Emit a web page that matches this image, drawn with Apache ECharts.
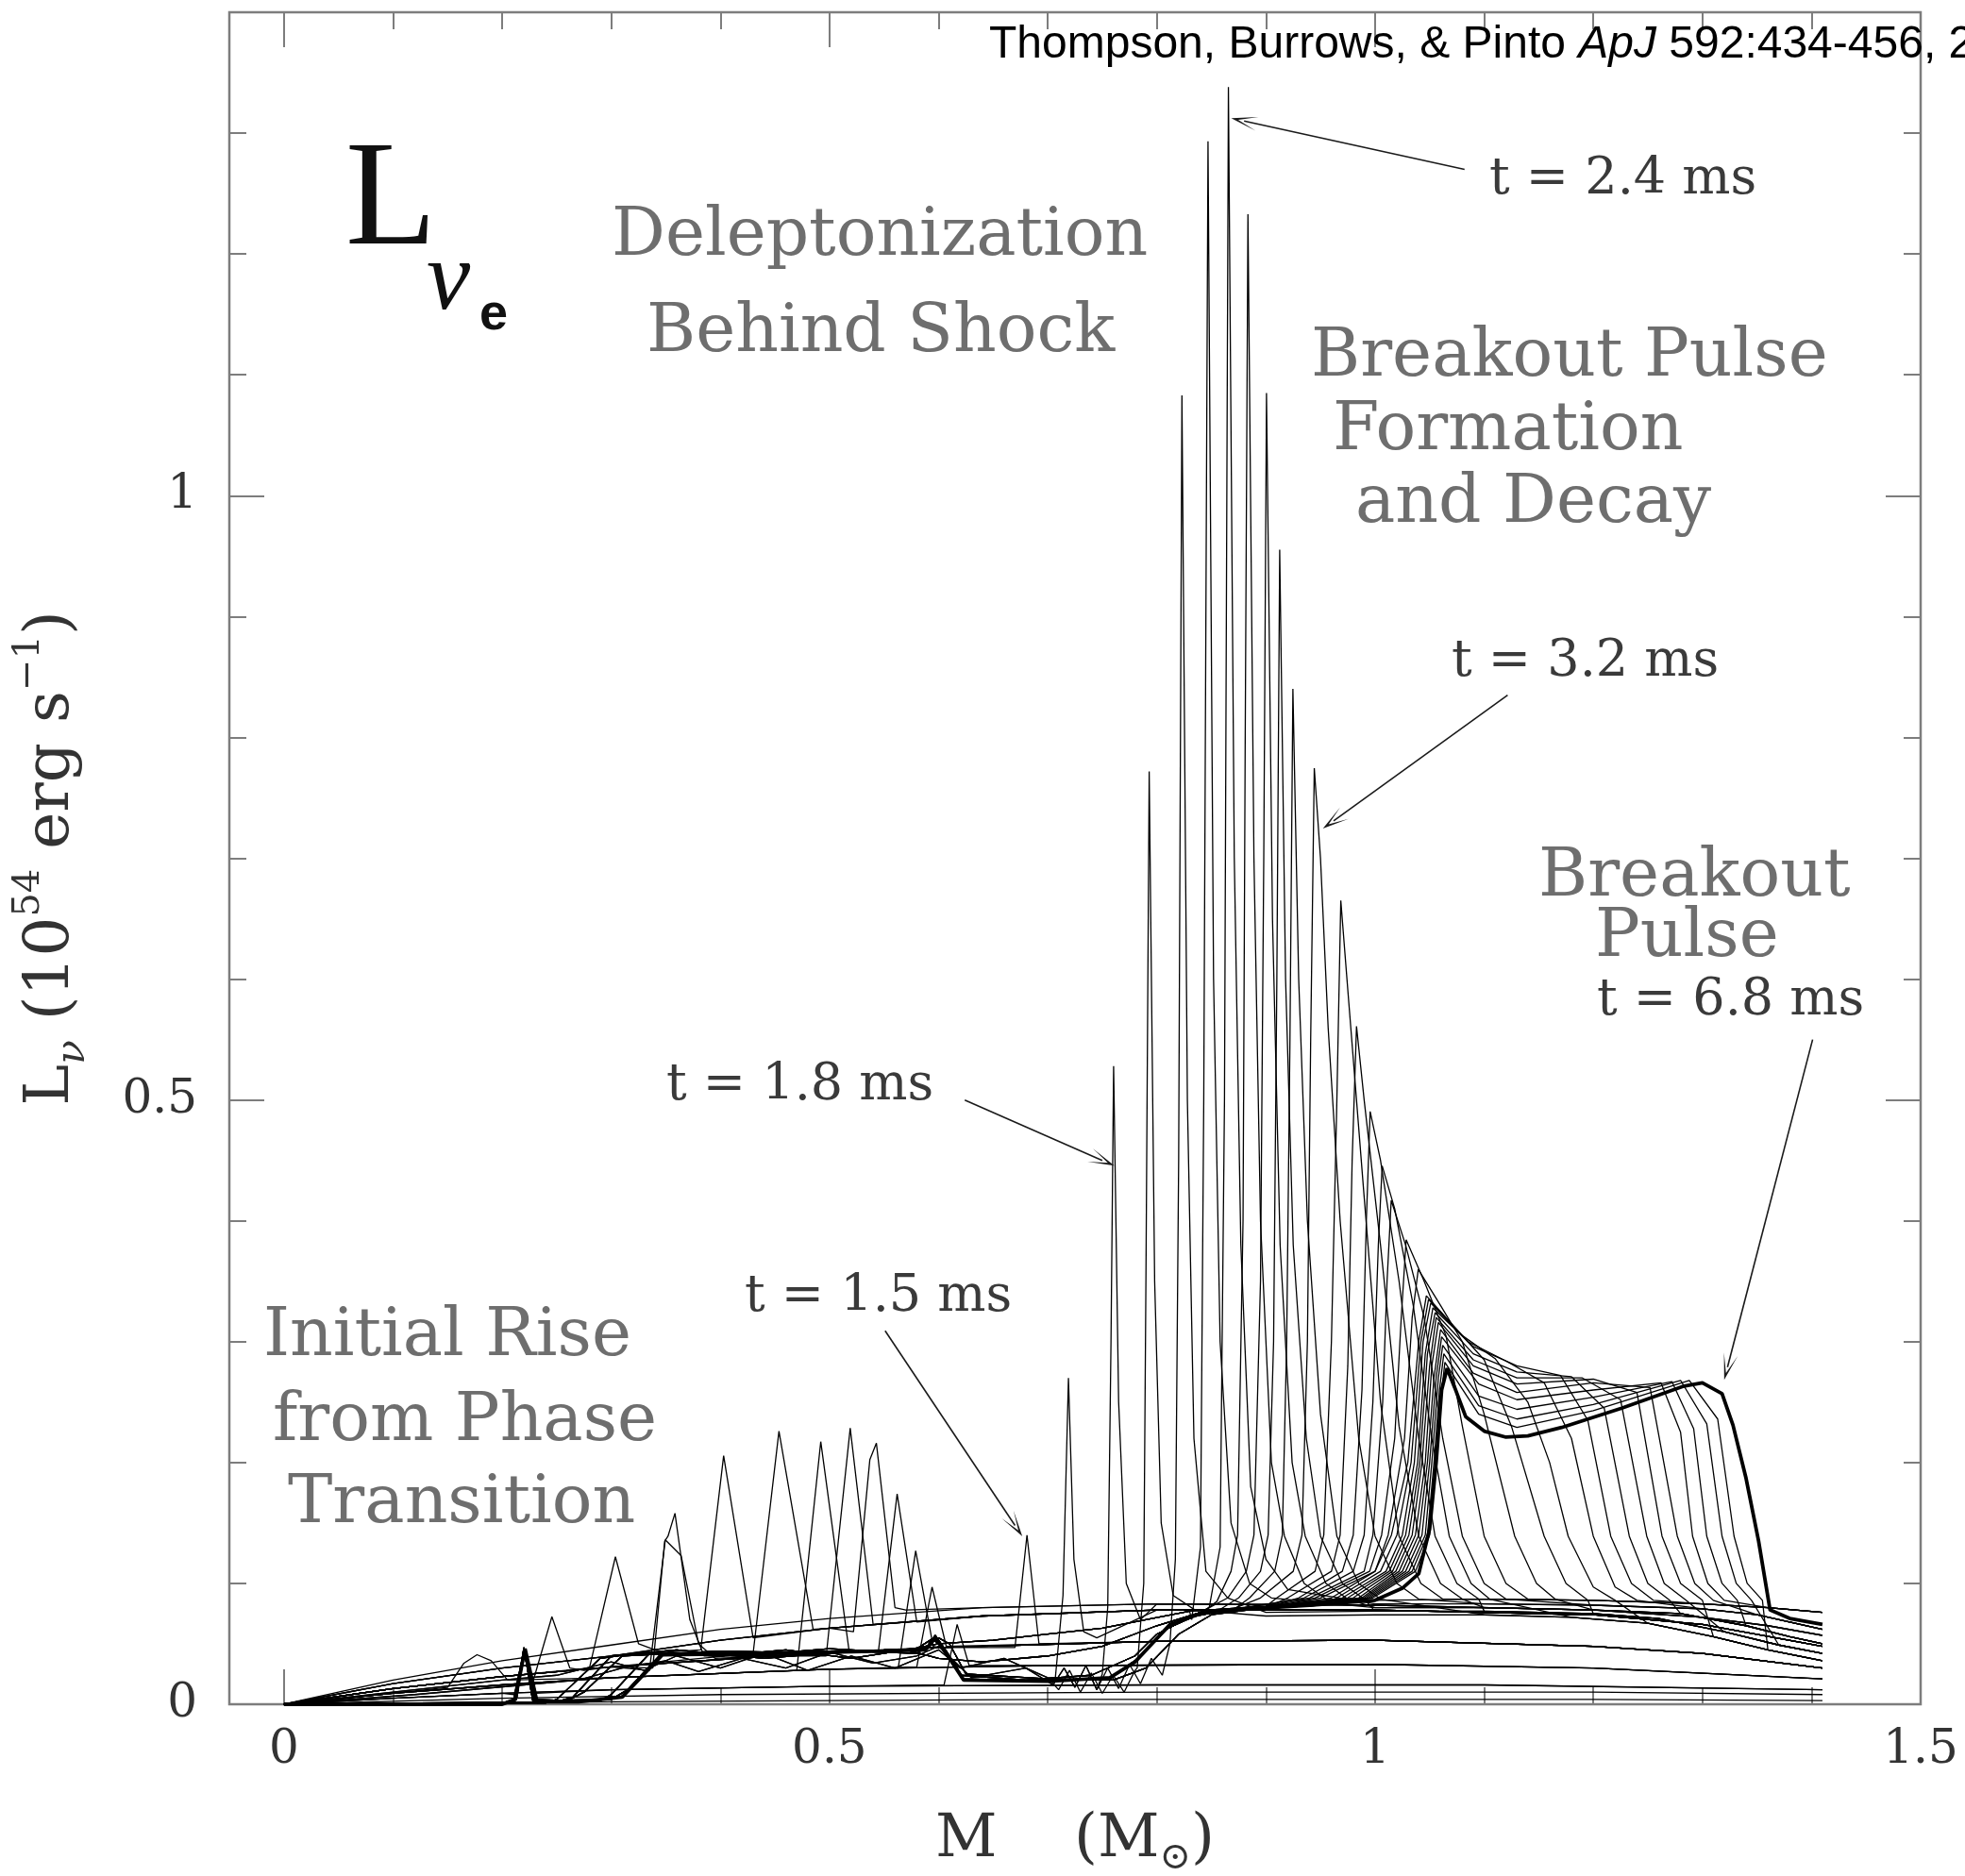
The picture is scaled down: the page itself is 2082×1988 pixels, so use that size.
<!DOCTYPE html>
<html>
<head>
<meta charset="utf-8">
<title>Electron-neutrino luminosity versus mass coordinate</title>
<script src="https://cdn.jsdelivr.net/npm/echarts@6/dist/echarts.min.js"></script>
<style>
  html, body { margin: 0; padding: 0; background: #fff; }
  #chart { width: 2082px; height: 1988px; }
</style>
</head>
<body>
<div id="chart"></div>
<script>
// Snapshots of L_nu_e (units of 1e54 erg/s) against enclosed mass M (solar masses).
// Every profile is a list of [M, L] pairs.

// ---- axis ticks and labels ----
const xMinorTicks = [0, 0.1, 0.2, 0.3, 0.4, 0.5, 0.6, 0.7, 0.8, 0.9, 1.0, 1.1, 1.2, 1.3, 1.4, 1.5];
const xMajorTicks = [0, 0.5, 1, 1.5];
const yMinorTicks = [0.1, 0.2, 0.3, 0.4, 0.5, 0.6, 0.7, 0.8, 0.9, 1.0, 1.1, 1.2, 1.3];
const yMajorTicks = [0, 0.5, 1];

// ---- smooth infall profiles (before the spikes) ----
const infallArc1 = [[0,0],[0.05,0.01],[0.1,0.02],[0.2,0.036],[0.3,0.049],[0.4,0.062],[0.5,0.071],[0.64,0.08],[0.8,0.083],[1.0,0.082],[1.2,0.078],[1.3,0.072],[1.36,0.065],[1.41,0.057]];
const infallArc2 = [[0,0],[0.1,0.017],[0.2,0.03],[0.3,0.04],[0.4,0.053],[0.5,0.063],[0.64,0.073],[0.8,0.078],[1.0,0.078],[1.2,0.074],[1.3,0.066],[1.41,0.048]];
const infallArc3 = [[0,0],[0.1,0.013],[0.2,0.023],[0.3,0.031],[0.45,0.04],[0.6,0.047],[0.8,0.052],[1.0,0.053],[1.2,0.048],[1.3,0.042],[1.41,0.03]];
const infallArc4 = [[0,0],[0.1,0.009],[0.2,0.016],[0.3,0.022],[0.5,0.029],[0.7,0.032],[1.0,0.033],[1.2,0.03],[1.41,0.021]];
const infallArc5 = [[0,0],[0.1,0.005],[0.2,0.009],[0.3,0.012],[0.5,0.015],[0.8,0.016],[1.1,0.016],[1.41,0.012]];
const infallArc6 = [[0,0],[0.2,0.005],[0.4,0.008],[0.8,0.01],[1.2,0.01],[1.41,0.008]];
const infallArc7 = [[0,0],[0.3,0.002],[0.7,0.004],[1.2,0.004],[1.41,0.003]];
const infallProfiles = [infallArc1, infallArc2, infallArc3, infallArc4, infallArc5, infallArc6, infallArc7];

// ---- initial rise from the phase transition: small spikes ----
const riseSpikes = [
  [[0.15,0.014],[0.165,0.034],[0.177,0.041],[0.19,0.036],[0.205,0.02]],
  [[0.211,0.008],[0.221,0.046],[0.231,0.009]],
  [[0.228,0.018],[0.2456,0.0724],[0.262,0.03],[0.275,0.028]],
  [[0.28,0.03],[0.3038,0.122],[0.325,0.05],[0.34,0.045]],
  [[0.338,0.03],[0.349,0.135],[0.352,0.139],[0.3584,0.158],[0.372,0.07],[0.385,0.04]],
  [[0.335,0.028],[0.3495,0.136],[0.364,0.123],[0.38,0.05],[0.395,0.038]],
  [[0.382,0.045],[0.403,0.2056],[0.43,0.055]],
  [[0.43,0.042],[0.4537,0.226],[0.485,0.062]],
  [[0.47,0.028],[0.492,0.2173],[0.518,0.044]],
  [[0.497,0.04],[0.519,0.2285],[0.54,0.066]],
  [[0.522,0.06],[0.537,0.2025],[0.543,0.216],[0.56,0.08],[0.57,0.078]],
  [[0.545,0.045],[0.562,0.174],[0.58,0.068]],
  [[0.563,0.03],[0.579,0.127],[0.595,0.048]],
  [[0.58,0.031],[0.594,0.097],[0.607,0.048]],
  [[0.605,0.016],[0.617,0.066],[0.628,0.032]],
  [[0.67,0.047],[0.681,0.14],[0.692,0.05]]
];
// which infall profile lies inside / outside each rise spike
const riseInner = [3, 4, 3, 2, 2, 2, 1, 2, 3, 2, 1, 2, 3, 3, 4, 2];
const riseOuter = [3, 4, 2, 1, 2, 2, 1, 1, 2, 1, 0, 1, 2, 2, 3, 2];

// ---- ragged profiles behind the young shock ----
const jagged1 = [[0,0],[0.1,0.01],[0.2,0.02],[0.25,0.024],[0.3,0.035],[0.33,0.028],[0.36,0.04],[0.4,0.03],[0.44,0.042],[0.48,0.028],[0.52,0.04],[0.56,0.03],[0.6,0.045],[0.62,0.03],[0.66,0.038],[0.7,0.022],[0.71,0.012],[0.72,0.028],[0.73,0.01],[0.74,0.026],[0.75,0.009],[0.76,0.024],[0.77,0.01],[0.78,0.028],[0.79,0.014],[0.8,0.034],[0.81,0.02],[0.82,0.048],[0.84,0.07],[0.87,0.078],[0.95,0.082],[1.05,0.083]];
const jagged2 = [[0,0],[0.12,0.008],[0.22,0.016],[0.27,0.02],[0.31,0.03],[0.35,0.036],[0.38,0.027],[0.42,0.038],[0.46,0.03],[0.5,0.043],[0.54,0.034],[0.58,0.04],[0.6,0.048],[0.63,0.022],[0.68,0.03],[0.705,0.016],[0.715,0.03],[0.725,0.014],[0.735,0.032],[0.745,0.012],[0.755,0.03],[0.765,0.013],[0.775,0.033],[0.785,0.017],[0.795,0.038],[0.805,0.024],[0.815,0.05],[0.83,0.066],[0.86,0.076],[0.95,0.081],[1.05,0.082]];

// ---- deleptonized core profiles of the later snapshots ----
const core1 = [[0,0],[0.2,0],[0.213,0.004],[0.221,0.046],[0.23,0.003],[0.3,0.004],[0.315,0.012],[0.345,0.041],[0.45,0.043],[0.55,0.045],[0.588,0.046],[0.597,0.057],[0.607,0.044],[0.623,0.021],[0.7,0.019],[0.757,0.022],[0.78,0.036],[0.81,0.063],[0.84,0.075],[0.87,0.078],[0.95,0.082],[1.05,0.084]];
const core2 = [[0,0],[0.21,0.001],[0.22,0.044],[0.229,0.004],[0.26,0.003],[0.275,0.01],[0.31,0.04],[0.4,0.044],[0.5,0.042],[0.58,0.046],[0.594,0.054],[0.6,0.05],[0.62,0.024],[0.68,0.02],[0.74,0.024],[0.78,0.04],[0.8,0.058],[0.83,0.072],[0.87,0.079],[0.95,0.082],[1.05,0.083]];
const core3 = [[0,0],[0.24,0.001],[0.25,0.004],[0.29,0.038],[0.33,0.043],[0.42,0.04],[0.5,0.046],[0.56,0.043],[0.6,0.05],[0.65,0.053],[0.7,0.058],[0.75,0.063],[0.79,0.07],[0.83,0.077],[0.9,0.081],[1.05,0.083]];
const core4 = [[0,0],[0.2,0.001],[0.212,0.004],[0.22,0.047],[0.228,0.003],[0.29,0.003],[0.3,0.008],[0.335,0.042],[0.4,0.04],[0.46,0.045],[0.52,0.038],[0.57,0.045],[0.6,0.038],[0.64,0.035],[0.7,0.04],[0.75,0.048],[0.8,0.065],[0.84,0.076],[0.9,0.08],[1.05,0.082]];
const core5 = [[0,0],[0.25,0.002],[0.265,0.006],[0.3,0.04],[0.36,0.045],[0.44,0.038],[0.52,0.044],[0.58,0.042],[0.6,0.055],[0.61,0.05],[0.625,0.025],[0.7,0.021],[0.76,0.02],[0.79,0.03],[0.82,0.058],[0.85,0.074],[0.9,0.08],[1.05,0.083]];

// ---- outer envelopes ahead of the shock ----
const envelope1 = [[0.8,0.08],[0.9,0.082],[1.0,0.083],[1.1,0.083],[1.2,0.082],[1.3,0.079],[1.35,0.074],[1.38,0.068],[1.41,0.062]];
const envelope2 = [[0.8,0.078],[0.9,0.08],[1.0,0.08],[1.1,0.08],[1.2,0.078],[1.28,0.075],[1.34,0.065],[1.38,0.056],[1.41,0.05]];
const envelope3 = [[0.8,0.075],[0.9,0.076],[1.0,0.077],[1.1,0.077],[1.2,0.075],[1.26,0.071],[1.32,0.06],[1.37,0.049],[1.41,0.042]];
const envelope4 = [[0.8,0.081],[0.9,0.085],[1.0,0.086],[1.1,0.087],[1.2,0.086],[1.3,0.083],[1.36,0.08],[1.41,0.076]];
const envelope5 = [[0.8,0.072],[0.9,0.073],[1.0,0.074],[1.1,0.074],[1.18,0.072],[1.25,0.067],[1.31,0.056],[1.36,0.045],[1.41,0.036]];

// ---- shock spikes growing up to t = 2.4 ms ----
const shockSpikes = [
  [[0.707,0.022],[0.714,0.09],[0.719,0.27],[0.724,0.12],[0.733,0.06],[0.745,0.055]],
  [[0.75,0.025],[0.755,0.08],[0.758,0.3],[0.7604,0.528],[0.765,0.25],[0.772,0.1],[0.785,0.07]],
  [[0.782,0.03],[0.788,0.1],[0.79,0.35],[0.793,0.7718],[0.798,0.35],[0.804,0.15],[0.815,0.09],[0.835,0.078]],
  [[0.812,0.05],[0.817,0.12],[0.82,0.45],[0.823,1.0829],[0.828,0.5],[0.834,0.22],[0.845,0.11],[0.865,0.088]],
  [[0.832,0.07],[0.84,0.13],[0.843,0.5],[0.8469,1.2932],[0.852,0.6],[0.858,0.3],[0.868,0.15],[0.885,0.1],[0.905,0.088]],
  [[0.848,0.08],[0.858,0.13],[0.862,0.5],[0.8656,1.3381],[0.871,0.7],[0.877,0.38],[0.886,0.18],[0.9,0.12],[0.92,0.095]]
];
const shockInner = [jagged1, jagged2, jagged1, jagged2, core3, core2];
const shockOuter = [infallArc2, infallArc1, envelope5, envelope3, envelope2, envelope1];

// ---- spikes decaying after t = 2.4 ms ----
const decaySpikes = [
  [[0.855,0.085],[0.868,0.11],[0.874,0.14],[0.879,0.4],[0.881,0.8],[0.8835,1.2329],[0.889,0.7],[0.895,0.4],[0.905,0.2],[0.917,0.139],[0.935,0.1],[0.955,0.087]],
  [[0.865,0.088],[0.882,0.11],[0.889,0.14],[0.895,0.35],[0.898,0.7],[0.9005,1.085],[0.906,0.65],[0.913,0.38],[0.924,0.2],[0.936,0.139],[0.955,0.1],[0.975,0.087]],
  [[0.875,0.088],[0.895,0.11],[0.902,0.14],[0.907,0.3],[0.91,0.6],[0.9126,0.9553],[0.918,0.6],[0.925,0.38],[0.937,0.22],[0.95,0.139],[0.97,0.1],[0.99,0.087]],
  [[0.885,0.088],[0.908,0.11],[0.915,0.14],[0.919,0.3],[0.922,0.55],[0.9247,0.8402],[0.93,0.6],[0.938,0.4],[0.95,0.24],[0.965,0.139],[0.985,0.1],[1.005,0.087]],
  [[0.895,0.088],[0.925,0.11],[0.933,0.14],[0.938,0.3],[0.941,0.55],[0.9443,0.7745],[0.95,0.7],[0.957,0.56],[0.968,0.4],[0.985,0.22],[1.0,0.139],[1.02,0.1],[1.04,0.087]],
  [[0.91,0.088],[0.945,0.11],[0.953,0.14],[0.96,0.3],[0.965,0.5],[0.9686,0.665],[0.976,0.58],[0.99,0.42],[1.005,0.25],[1.022,0.139],[1.042,0.1],[1.062,0.087]],
  [[0.92,0.088],[0.96,0.11],[0.968,0.14],[0.975,0.28],[0.979,0.45],[0.983,0.561],[0.99,0.5],[1.005,0.38],[1.022,0.23],[1.04,0.139],[1.06,0.1],[1.08,0.087]],
  [[0.93,0.088],[0.97,0.11],[0.98,0.14],[0.988,0.26],[0.992,0.4],[0.9955,0.4905],[1.005,0.45],[1.022,0.35],[1.04,0.22],[1.055,0.139],[1.075,0.1],[1.095,0.087]],
  [[0.935,0.088],[0.98,0.11],[0.99,0.14],[0.998,0.25],[1.003,0.38],[1.0065,0.4455],[1.018,0.41],[1.035,0.33],[1.052,0.22],[1.068,0.139],[1.088,0.1],[1.105,0.087]],
  [[0.94,0.088],[0.99,0.11],[0.998,0.14],[1.007,0.25],[1.011,0.35],[1.0148,0.417],[1.028,0.38],[1.045,0.32],[1.062,0.22],[1.08,0.139],[1.1,0.1],[1.12,0.087]],
  [[0.945,0.088],[0.995,0.11],[1.006,0.14],[1.018,0.22],[1.024,0.32],[1.0285,0.3843],[1.045,0.35],[1.065,0.305],[1.08,0.23],[1.1,0.139],[1.12,0.1],[1.14,0.087]],
  [[0.95,0.088],[1.0,0.11],[1.012,0.14],[1.027,0.22],[1.034,0.32],[1.0396,0.3598],[1.06,0.33],[1.08,0.3],[1.1,0.24],[1.128,0.139],[1.148,0.1],[1.165,0.087]]
];
const decayInner = [core1, core4, core5, core1, core2, core3, core4, core5, core1, core2, core3, core4];
const decayOuter = [envelope4, envelope2, envelope3, envelope5, envelope1, envelope4, envelope2, envelope3, envelope5, envelope1, envelope4, envelope2];

// ---- breakout pulse formation: plateaus running outward ----
const breakoutCurves = [
  [[0.96,0.088],[1.0,0.11],[1.015,0.14],[1.03,0.2],[1.04,0.3],[1.047,0.338],[1.075,0.31],[1.1,0.285],[1.125,0.23],[1.155,0.139],[1.175,0.1],[1.195,0.086]],
  [[0.965,0.088],[1.005,0.11],[1.02,0.14],[1.033,0.2],[1.042,0.3],[1.049,0.335],[1.08,0.305],[1.11,0.286],[1.14,0.25],[1.16,0.2],[1.177,0.139],[1.2,0.097],[1.22,0.086]],
  [[0.97,0.088],[1.01,0.11],[1.025,0.14],[1.036,0.2],[1.044,0.3],[1.051,0.332],[1.085,0.3],[1.12,0.284],[1.155,0.266],[1.18,0.22],[1.2,0.139],[1.22,0.097],[1.24,0.086]],
  [[0.975,0.088],[1.013,0.11],[1.028,0.14],[1.039,0.2],[1.046,0.29],[1.053,0.328],[1.09,0.296],[1.13,0.28],[1.17,0.272],[1.195,0.235],[1.216,0.139],[1.235,0.1],[1.255,0.086]],
  [[0.98,0.088],[1.016,0.11],[1.031,0.14],[1.041,0.2],[1.048,0.29],[1.055,0.324],[1.09,0.29],[1.13,0.275],[1.18,0.271],[1.21,0.245],[1.233,0.139],[1.25,0.1],[1.27,0.086]],
  [[0.985,0.088],[1.019,0.11],[1.034,0.14],[1.043,0.2],[1.05,0.28],[1.056,0.32],[1.09,0.285],[1.13,0.27],[1.19,0.27],[1.225,0.252],[1.249,0.139],[1.265,0.1],[1.285,0.086]],
  [[0.988,0.088],[1.022,0.11],[1.037,0.14],[1.046,0.2],[1.052,0.28],[1.058,0.316],[1.09,0.28],[1.13,0.265],[1.2,0.269],[1.24,0.258],[1.263,0.139],[1.28,0.1],[1.3,0.086]],
  [[0.99,0.088],[1.025,0.11],[1.04,0.14],[1.048,0.2],[1.054,0.27],[1.06,0.31],[1.09,0.274],[1.13,0.258],[1.2,0.266],[1.252,0.262],[1.277,0.139],[1.293,0.1],[1.31,0.086]],
  [[0.992,0.088],[1.028,0.11],[1.043,0.14],[1.05,0.2],[1.056,0.27],[1.061,0.304],[1.095,0.265],[1.13,0.252],[1.2,0.26],[1.262,0.266],[1.28,0.225],[1.291,0.139],[1.305,0.1],[1.32,0.086]],
  [[0.994,0.088],[1.031,0.11],[1.046,0.14],[1.052,0.2],[1.058,0.27],[1.062,0.297],[1.095,0.255],[1.13,0.244],[1.2,0.254],[1.272,0.267],[1.292,0.228],[1.304,0.139],[1.318,0.1],[1.332,0.086]],
  [[0.996,0.088],[1.034,0.11],[1.048,0.14],[1.054,0.2],[1.059,0.26],[1.063,0.29],[1.095,0.247],[1.13,0.236],[1.2,0.248],[1.28,0.268],[1.304,0.232],[1.318,0.139],[1.331,0.1],[1.345,0.086]],
  [[0.998,0.088],[1.037,0.11],[1.05,0.14],[1.056,0.2],[1.06,0.25],[1.064,0.283],[1.095,0.24],[1.13,0.229],[1.2,0.243],[1.288,0.268],[1.314,0.236],[1.329,0.139],[1.341,0.1],[1.355,0.086]]
];
const breakoutInner = [core5, core1, core2, core3, core4, core5, core1, core2, core3, core4, core5, core1];
const breakoutOuter = [envelope3, envelope5, envelope1, envelope4, envelope2, envelope3, envelope5, envelope1, envelope4, envelope2, envelope3, envelope5];

// ---- the breakout pulse at t = 6.8 ms (heavy line) ----
const pulseCurve = [[0,0],[0.2,0],[0.212,0.004],[0.221,0.046],[0.232,0.002],[0.27,0.002],[0.31,0.006],[0.347,0.041],[0.45,0.042],[0.55,0.044],[0.588,0.045],[0.597,0.055],[0.605,0.045],[0.623,0.02],[0.7,0.019],[0.757,0.022],[0.78,0.035],[0.812,0.066],[0.84,0.075],[0.868,0.078],[0.94,0.082],[1.0,0.086],[1.025,0.096],[1.04,0.108],[1.05,0.145],[1.056,0.2],[1.061,0.26],[1.066,0.278],[1.073,0.262],[1.083,0.238],[1.1,0.226],[1.12,0.221],[1.14,0.222],[1.171,0.229],[1.226,0.245],[1.282,0.263],[1.3,0.266],[1.318,0.257],[1.328,0.231],[1.34,0.187],[1.3515,0.135],[1.362,0.078],[1.38,0.071],[1.41,0.066]];

// ---- annotation arrows: [tail, head] in data units ----
const arrowPaths = [
  [[1.082, 1.270], [0.880, 1.310]],
  [[1.1215, 0.835], [0.962, 0.731]],
  [[0.624, 0.500], [0.750, 0.450]],
  [[0.551, 0.309], [0.670, 0.148]],
  [[1.401, 0.550], [1.323, 0.279]]
];

// ---- text placed on the page (pixel layout) ----
const regionLabels = [
  { text: 'Deleptonization', x: 648, y: 252 },
  { text: 'Behind Shock', x: 685, y: 354 },
  { text: 'Breakout Pulse', x: 1389, y: 380 },
  { text: 'Formation', x: 1412, y: 458 },
  { text: 'and Decay', x: 1436, y: 535 },
  { text: 'Breakout', x: 1630, y: 931 },
  { text: 'Pulse', x: 1690, y: 995 },
  { text: 'Initial Rise', x: 279, y: 1418 },
  { text: 'from Phase', x: 289, y: 1508 },
  { text: 'Transition', x: 305, y: 1595 }
];
const timeLabels = [
  { text: 't = 2.4 ms', x: 1578, y: 191 },
  { text: 't = 3.2 ms', x: 1538, y: 702 },
  { text: 't = 1.8 ms', x: 706, y: 1151 },
  { text: 't = 1.5 ms', x: 789, y: 1375 },
  { text: 't = 6.8 ms', x: 1692, y: 1061 }
];

// ---------------------------------------------------------------
function compose(inner, core, outer) {
  const first = core[0][0];
  const last = core[core.length - 1][0];
  return inner.filter(p => p[0] < first).concat(core, outer.filter(p => p[0] > last));
}

const series = [];
function addCurve(data, width) {
  series.push({
    type: 'line', data: data, showSymbol: false, symbol: 'none', smooth: false,
    silent: true, animation: false, emphasis: { disabled: true },
    lineStyle: { color: '#000', width: width }, z: width > 2 ? 4 : 3
  });
}

infallProfiles.forEach(p => addCurve(p, 1.3));
riseSpikes.forEach((s, i) => addCurve(compose(infallProfiles[riseInner[i]], s, infallProfiles[riseOuter[i]]), 1.3));
shockSpikes.forEach((s, i) => addCurve(compose(shockInner[i], s, shockOuter[i]), 1.3));
decaySpikes.forEach((s, i) => addCurve(compose(decayInner[i], s, decayOuter[i]), 1.3));
breakoutCurves.forEach((s, i) => addCurve(compose(breakoutInner[i], s, breakoutOuter[i]), 1.3));
addCurve(pulseCurve, 3.8);

const arrowHead = 'path://M5,0L10,26L5,7L0,26Z';
series.push({
  type: 'line', data: [], silent: true, animation: false,
  markLine: {
    silent: true, animation: false,
    label: { show: false },
    lineStyle: { color: '#1a1a1a', width: 1.6, type: 'solid' },
    data: arrowPaths.map(a => [
      { coord: a[0], symbol: 'none' },
      { coord: a[1], symbol: arrowHead, symbolSize: [15, 28] }
    ])
  }
});

const frameColor = '#7d7d7d';
const serif = '"DejaVu Serif", "Liberation Serif", serif';

function xAxisFor(position, ticks, len, withLabels) {
  return {
    type: 'value', gridIndex: 0, position: position, min: -0.05, max: 1.5,
    axisLine: { show: false, onZero: false }, splitLine: { show: false },
    axisTick: { show: true, inside: true, length: len, customValues: ticks, lineStyle: { color: frameColor, width: 2 } },
    axisLabel: withLabels ? {
      show: true, customValues: xMajorTicks, margin: 24,
      fontFamily: serif, fontSize: 50, color: '#333',
      formatter: v => String(v)
    } : { show: false },
    name: withLabels ? 'M    (M{sub|⊙})' : '',
    nameLocation: 'middle', nameGap: 104,
    nameTextStyle: {
      fontFamily: serif, fontSize: 64, color: '#333', lineHeight: 80,
      rich: { sub: { fontFamily: serif, fontSize: 40, color: '#333', verticalAlign: 'bottom', lineHeight: 44 } }
    }
  };
}
function yAxisFor(position, ticks, len, withLabels) {
  return {
    type: 'value', gridIndex: 0, position: position, min: 0, max: 1.4,
    axisLine: { show: false, onZero: false }, splitLine: { show: false },
    axisTick: { show: true, inside: true, length: len, customValues: ticks, lineStyle: { color: frameColor, width: 2 } },
    axisLabel: withLabels ? {
      show: true, customValues: yMajorTicks, margin: 34,
      fontFamily: serif, fontSize: 50, color: '#333',
      formatter: v => String(v)
    } : { show: false },
    name: withLabels ? 'L{nu|ν} ({n|10}{sup|54} erg s{sup|−1})' : '',
    nameLocation: 'middle', nameRotate: 90, nameGap: 144,
    nameTextStyle: {
      fontFamily: serif, fontSize: 66, color: '#333', lineHeight: 88,
      rich: {
        nu: { fontFamily: serif, fontStyle: 'italic', fontSize: 42, color: '#333', verticalAlign: 'bottom', lineHeight: 52 },
        n: { fontFamily: serif, fontSize: 66, color: '#333', lineHeight: 88 },
        sup: { fontFamily: serif, fontSize: 40, color: '#333', verticalAlign: 'top', lineHeight: 42 }
      }
    }
  };
}

const graphics = [];
regionLabels.forEach(t => graphics.push({
  type: 'text', x: t.x, y: t.y, silent: true, z: 20,
  style: { text: t.text, fill: '#6e6e6e', font: '71px ' + serif, align: 'left', verticalAlign: 'middle', textAlign: 'left', textVerticalAlign: 'middle' }
}));
timeLabels.forEach(t => graphics.push({
  type: 'text', x: t.x, y: t.y, silent: true, z: 20,
  style: { text: t.text, fill: '#3a3a3a', font: '54px ' + serif, align: 'left', verticalAlign: 'middle', textAlign: 'left', textVerticalAlign: 'middle' }
}));
graphics.push({
  type: 'text', x: 366, y: 216, silent: true, z: 20,
  style: { text: 'L', fill: '#111', font: '158px "Liberation Serif", serif', align: 'left', verticalAlign: 'middle', textAlign: 'left', textVerticalAlign: 'middle' }
});
graphics.push({
  type: 'text', x: 452, y: 300, silent: true, z: 20,
  style: { text: 'ν', fill: '#111', font: 'italic 104px "Liberation Serif", serif', align: 'left', verticalAlign: 'middle', textAlign: 'left', textVerticalAlign: 'middle' }
});
graphics.push({
  type: 'text', x: 508, y: 334, silent: true, z: 20,
  style: { text: 'e', fill: '#111', font: 'bold 54px "Liberation Sans", sans-serif', align: 'left', verticalAlign: 'middle', textAlign: 'left', textVerticalAlign: 'middle' }
});
graphics.push({
  type: 'text', x: 1048, y: 48, silent: true, z: 20,
  style: {
    text: 'Thompson, Burrows, & Pinto {i|ApJ} 592:434-456, 2003',
    fill: '#000', fontFamily: '"Liberation Sans", Arial, sans-serif', fontSize: 48,
    align: 'left', verticalAlign: 'middle', textAlign: 'left', textVerticalAlign: 'middle',
    rich: { i: { fontStyle: 'italic', fontFamily: '"Liberation Sans", Arial, sans-serif', fontSize: 48, fill: '#000', color: '#000' } }
  }
});

const chart = echarts.init(document.getElementById('chart'), null, { renderer: 'canvas', width: 2082, height: 1988 });
chart.setOption({
  animation: false,
  backgroundColor: '#ffffff',
  textStyle: { fontFamily: serif },
  grid: {
    left: 243, right: 47, top: 13, bottom: 182,
    show: true, borderColor: frameColor, borderWidth: 2.5, backgroundColor: 'transparent',
    containLabel: false, outerBoundsMode: 'none'
  },
  xAxis: [
    xAxisFor('bottom', xMinorTicks, 18, true),
    xAxisFor('bottom', xMajorTicks, 37, false),
    xAxisFor('top', xMinorTicks, 18, false),
    xAxisFor('top', xMajorTicks, 37, false)
  ],
  yAxis: [
    yAxisFor('left', yMinorTicks, 18, true),
    yAxisFor('left', yMajorTicks, 37, false),
    yAxisFor('right', yMinorTicks, 18, false),
    yAxisFor('right', yMajorTicks, 37, false)
  ],
  series: series,
  graphic: graphics
});
</script>
</body>
</html>
